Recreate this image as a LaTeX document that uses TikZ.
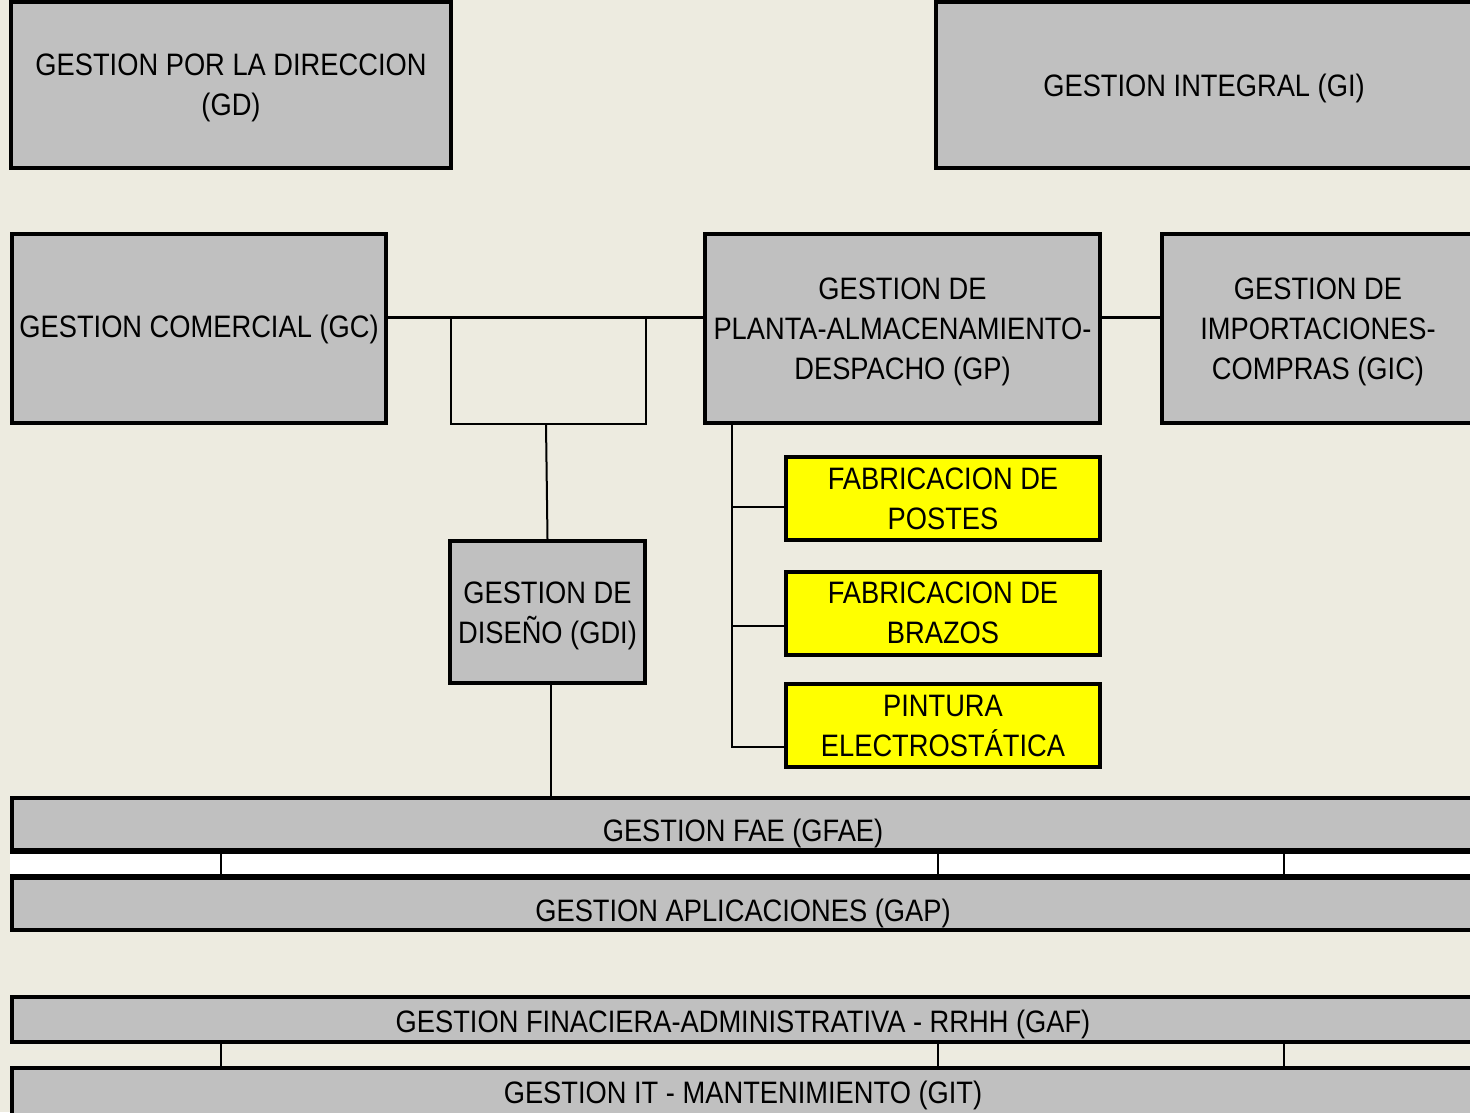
\documentclass[tikz,border=0pt]{standalone}
\usepackage{fontspec}
\setmainfont{Liberation Sans}[FakeStretch=0.88]
\definecolor{bgcream}{HTML}{EDEBE0}
\definecolor{boxgray}{HTML}{C0C0C0}
\definecolor{boxyellow}{HTML}{FFFF00}
\begin{document}
\begin{tikzpicture}[x=1pt,y=-1pt,
  lbl/.style={font=\fontsize{31}{40}\selectfont, align=center, inner sep=0pt},
  unit/.style={draw=black, line width=4pt, fill=boxgray, inner sep=0pt, minimum width=#1},
  task/.style={lbl, draw=black, line width=4pt, fill=boxyellow, minimum width=314pt, minimum height=83pt},
  bar/.style={draw=black, line width=4pt, fill=boxgray, minimum width=1462pt, minimum height=#1, inner sep=0pt},
  link/.style={draw=black, line width=3pt},
  thinlink/.style={draw=black, line width=2pt},
  cell/.style={draw=black, line width=1.5pt}]
% canvas
\fill[bgcream] (0,0) rectangle (1470,1112);
\useasboundingbox (0,0) rectangle (1470,1112);
\clip (0,0) rectangle (1470,1112);

% top row
\node[unit=440pt, minimum height=166pt] (gd) at (231,85) {};
\node[lbl, yshift=-3pt] (gd-t) at (gd) {GESTION POR LA DIRECCION\\(GD)};
\node[unit=536pt, minimum height=166pt] (gi) at (1204,85) {};
\node[lbl, yshift=-3pt] (gi-t) at (gi) {GESTION INTEGRAL (GI)};

% second row
\node[unit=374pt, minimum height=189pt] (gc) at (199,328.5) {};
\node[lbl, yshift=-1pt] (gc-t) at (gc) {GESTION COMERCIAL (GC)};
\node[unit=395pt, minimum height=189pt] (gp) at (902.5,328.5) {};
\node[lbl, yshift=-3pt] (gp-t) at (gp) {GESTION DE\\PLANTA-ALMACENAMIENTO-\\DESPACHO (GP)};
\node[unit=312pt, minimum height=189pt] (gic) at (1318,328.5) {};
\node[lbl, yshift=-3pt] (gic-t) at (gic) {GESTION DE\\IMPORTACIONES-\\COMPRAS (GIC)};

% design unit
\node[unit=195pt, minimum height=142pt] (gdi) at (547.5,612) {};
\node[lbl, yshift=-3.5pt] (gdi-t) at (gdi) {GESTION DE\\DISEÑO (GDI)};

% plant tasks
\node[task] (fp) at (943,498.5) {FABRICACION DE\\POSTES};
\node[task] (fb) at (943,613) {FABRICACION DE\\BRAZOS};
\node[task] (pe) at (943,725.5) {PINTURA\\ELECTROSTÁTICA};

% horizontal links of the second row
\coordinate (row) at (0,317);
\draw[link] (gc.east |- row) -- (gp.west |- row);
\draw[link] (gp.east |- row) -- (gic.west |- row);

% open frame under the commercial link
\coordinate (fl) at (451,424);
\coordinate (fr) at (646,424);
\draw[thinlink] (fl |- row) -- (fl) -- (fr) -- (fr |- row);
\coordinate (fm) at (546,424);
\draw[thinlink] (fm) -- (gdi.north);

% plant trunk and branches
\coordinate (trunk) at (732,0);
\draw[thinlink] (trunk |- gp.south) -- (732,747) -- (pe.west |- 0,747);
\draw[thinlink] (732,507) -- (fp.west |- 0,507);
\draw[thinlink] (732,626) -- (fb.west |- 0,626);

% bars
\node[bar=52pt] (gfae) at (743,824) {};
\node[bar=52pt] (gap) at (743,904) {};
\node[bar=45pt] (gaf) at (743,1019.5) {};
\node[bar=48pt] (git) at (743,1092) {};

% design unit to the FAE bar
\coordinate (dl) at (551,0);
\draw[thinlink] (dl |- gdi.south) -- (dl |- gfae.north);

% cell strip between FAE and APLICACIONES
\fill[white] (gfae.south west) rectangle (gap.north east);
\foreach \cx in {221,938,1284}
  \draw[cell] (\cx,850) -- (\cx,878);
\draw[draw=black, line width=4pt] (gfae.south west) -- (gfae.south east);
\draw[draw=black, line width=4pt] (gap.north west) -- (gap.north east);

% cell strip between GAF and GIT
\foreach \cx in {221,938,1284}
  \draw[cell] (\cx,1042) -- (\cx,1068);

% bar labels
\node[lbl, anchor=base] (gfae-t) at (743,841) {GESTION FAE (GFAE)};
\node[lbl, anchor=base] (gap-t) at (743,921) {GESTION APLICACIONES (GAP)};
\node[lbl, anchor=base] (gaf-t) at (743,1032) {GESTION FINACIERA-ADMINISTRATIVA - RRHH (GAF)};
\node[lbl, anchor=base] (git-t) at (743,1103) {GESTION IT - MANTENIMIENTO (GIT)};
\end{tikzpicture}
\end{document}
